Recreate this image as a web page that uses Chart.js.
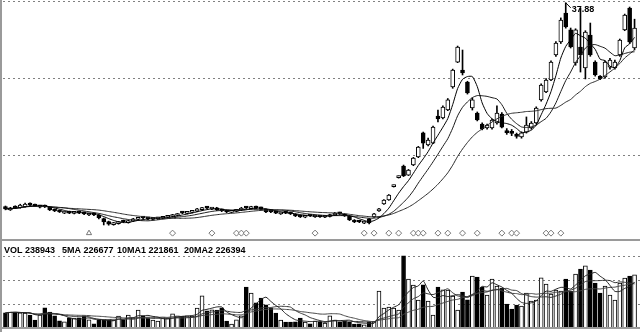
<!DOCTYPE html>
<html>
<head>
<meta charset="utf-8">
<script src="https://cdn.jsdelivr.net/npm/chart.js@4.4.0/dist/chart.umd.min.js"></script>
<style>
html, body { margin: 0; padding: 0; background: #fff; }
#wrap { position: relative; width: 640px; height: 332px; overflow: hidden; }
#price { position: absolute; left: 0; top: 0; }
#vol { position: absolute; left: 0; top: 241px; }
.frame { position: absolute; background: #9a9a9a; }
</style>
</head>
<body>
<div id="wrap">
  <canvas id="price" width="640" height="239"></canvas>
  <canvas id="vol" width="640" height="91"></canvas>
  <div class="frame" style="left:0;top:0;width:2px;height:332px"></div>
  <div class="frame" style="left:0;top:239px;width:640px;height:2px"></div>
  <div class="frame" style="left:0;top:327px;width:640px;height:2px"></div>
</div>
<script>
// daily candles, oldest first
const opens = [
  21.95,21.7,21.98,21.86,21.95,22.2,22.12,21.9,22.04,21.9,
  21.72,21.65,21.44,21.56,21.42,21.55,21.48,21.3,21.4,21.3,
  21.02,20.78,20.55,20.62,20.86,20.7,20.82,20.96,21.14,21.08,
  20.96,21.0,21.04,21.12,21.18,21.26,21.52,21.42,21.5,21.6,
  21.72,21.94,21.76,21.86,21.72,21.64,21.5,21.58,21.68,21.92,
  21.8,21.95,21.88,21.74,21.62,21.56,21.38,21.54,21.48,21.36,
  21.26,21.12,21.3,21.14,21.24,21.12,21.18,21.3,21.48,21.36,
  21.2,20.9,20.84,20.66,
  20.99,21.14,21.62,22.16,22.47,23.52,24.22,25.13,24.42,25.21,
  25.83,27.71,26.77,26.92,29.03,28.88,29.5,31.3,33.25,32.63,
  31.69,29.66,29.27,28.41,28.1,28.1,28.49,29.19,27.82,27.75,
  27.5,27.39,27.78,28.1,28.49,30.29,30.91,31.85,33.8,34.82,
  37.08,35.76,33.18,34.43,32.79,35.36,33.25,32.16,32.08,32.86,
  32.79,33.8,35.76,37.47,34.35
];
const closes = [
  21.77,21.84,21.84,22.08,22.16,22.08,22.0,22.0,21.92,21.69,
  21.61,21.53,21.53,21.45,21.53,21.45,21.38,21.38,21.3,21.06,
  20.75,20.59,20.67,20.75,20.75,20.83,20.99,21.06,21.06,20.99,
  21.06,21.06,21.14,21.22,21.3,21.38,21.45,21.53,21.61,21.77,
  21.84,21.84,21.84,21.69,21.61,21.53,21.61,21.69,21.84,21.84,
  21.92,21.84,21.77,21.53,21.53,21.45,21.45,21.45,21.38,21.22,
  21.14,21.22,21.22,21.22,21.14,21.22,21.3,21.45,21.38,21.22,
  20.91,20.75,20.75,20.75,
  20.67,21.38,21.77,22.47,22.86,23.6,24.3,24.35,24.81,25.75,
  26.61,26.92,27.16,28.17,28.8,29.74,30.29,32.63,34.43,32.4,
  30.83,30.29,28.72,28.02,28.33,28.72,29.27,28.17,27.74,27.68,
  27.44,27.71,28.33,28.49,29.66,31.46,31.85,33.25,34.74,36.54,
  35.99,34.43,35.76,33.8,35.6,33.8,32.24,31.93,33.25,33.41,
  33.25,34.97,36.93,34.82,35.91
];
const highs = [
  22.0,21.9,22.02,22.14,22.22,22.24,22.15,22.05,22.08,21.94,
  21.76,21.68,21.58,21.6,21.57,21.6,21.52,21.42,21.45,21.34,
  21.06,20.82,20.72,20.8,20.9,20.88,21.04,21.12,21.18,21.12,
  21.1,21.12,21.18,21.26,21.35,21.42,21.56,21.58,21.66,21.82,
  21.9,21.98,21.9,21.9,21.76,21.68,21.66,21.74,21.9,21.96,
  21.98,22.0,21.92,21.78,21.66,21.6,21.5,21.58,21.52,21.4,
  21.3,21.26,21.34,21.27,21.28,21.26,21.36,21.5,21.52,21.4,
  21.24,20.94,20.88,20.8,
  21.03,21.42,21.82,22.5,22.9,23.64,24.35,25.2,24.86,25.8,
  26.66,27.78,27.3,28.25,29.5,29.82,30.4,32.7,34.5,34.19,
  31.75,30.45,29.35,28.5,28.4,28.8,29.82,29.3,28.05,27.98,
  27.7,27.8,28.96,28.6,29.75,31.55,31.95,33.35,34.85,36.7,
  37.88,35.91,35.85,37.47,35.7,36.3,33.35,32.2,33.35,33.55,
  33.4,35.05,37.0,37.55,36.6
];
const lows = [
  21.7,21.65,21.8,21.82,21.9,22.02,21.96,21.86,21.88,21.64,
  21.56,21.49,21.4,21.4,21.38,21.4,21.33,21.25,21.25,21.0,
  20.52,20.5,20.5,20.58,20.7,20.66,20.78,20.92,21.0,20.94,
  20.92,20.95,21.0,21.08,21.14,21.22,21.4,21.38,21.46,21.56,
  21.68,21.8,21.72,21.64,21.56,21.48,21.46,21.54,21.64,21.8,
  21.76,21.8,21.72,21.48,21.48,21.4,21.34,21.4,21.33,21.17,
  21.1,21.08,21.18,21.1,21.1,21.08,21.14,21.26,21.34,21.18,
  20.86,20.7,20.7,20.62,
  20.6,21.1,21.58,22.12,22.44,23.48,24.18,24.3,24.38,25.15,
  25.78,26.5,26.7,26.88,28.57,28.8,29.45,31.2,33.2,32.24,
  30.75,29.5,28.65,27.95,28.0,28.0,28.4,28.1,27.6,27.5,
  27.3,27.3,27.7,28.0,28.4,30.2,30.85,31.8,33.7,34.7,
  35.9,34.35,33.0,32.47,31.93,33.7,32.15,31.88,32.0,32.7,
  32.7,33.7,35.7,34.7,34.2
];
const vols = [
  67800,72100,71500,68200,66900,58400,36200,59100,90300,71800,
  54600,31900,27400,45300,44800,46100,53700,36500,18900,37200,
  35800,36900,35100,54200,36400,58700,45500,81200,53900,44600,
  35900,31400,45800,44100,63300,54800,53500,55100,54000,89700,
  144500,76800,81400,80600,90800,31200,18200,36300,54400,184600,
  157300,112800,135100,103900,89800,67600,36100,27200,26800,27500,
  45200,26900,18300,31600,27100,22600,54300,36000,27300,31500,
  26700,18100,18600,13900,27000,27800,166400,90100,94700,89500,
  81100,324800,220500,193600,126000,194100,121500,58600,184200,171300,
  170800,144200,81000,162100,126300,234100,229400,184700,148600,220300,
  189100,180200,108100,85600,103400,99200,157400,121600,126100,225300,
  198200,153100,171000,166600,220700,166200,243100,265400,279300,261000,
  202600,157600,189000,148400,126200,202400,225100,233900,238943
];
// signal markers under the candles (candle index)
const diamondIdx = [34,42,47,48,49,63,73,75,78,80,83,84,85,88,90,93,96,101,103,104,110,111,113];
const triangleIdx = [17];
// dashed reference levels
const priceGrid = [26, 32, 38];
const volGrid = [108000, 216000, 324000];
// volume header as shown by the terminal
const volLegend = [["VOL", "238943"], ["5MA", "226677"], ["10MA1", "221861"], ["20MA2", "226394"]];

const labels = closes.map((_, i) => i + 1);
const isUp = closes.map((c, i) => c >= opens[i]);
const bodyFill = isUp.map(u => (u ? "#fff" : "#000"));

function movingAvg(arr, n) {
  return arr.map((_, i) => {
    const s = Math.max(0, i - n + 1);
    let t = 0;
    for (let k = s; k <= i; k++) t += arr[k];
    return t / (i - s + 1);
  });
}

const MARK_LEVEL = 19.88;
const diamonds = labels.map((_, i) => (diamondIdx.includes(i) ? MARK_LEVEL : null));
const triangles = labels.map((_, i) => (triangleIdx.includes(i) ? MARK_LEVEL : null));

const dashGrid = values => ({
  id: "dashGrid",
  beforeDatasetsDraw(chart) {
    const c = chart.ctx, y = chart.scales.y;
    c.save();
    c.strokeStyle = "#808080";
    c.lineWidth = 1;
    c.setLineDash([2, 3]);
    values.forEach(v => {
      const py = Math.round(y.getPixelForValue(v)) + 0.5;
      c.beginPath();
      c.moveTo(chart.chartArea.left, py);
      c.lineTo(chart.width, py);
      c.stroke();
    });
    c.restore();
  }
});

const highLabel = {
  id: "highLabel",
  afterDatasetsDraw(chart) {
    const top = Math.max(...highs);
    const idx = highs.indexOf(top);
    const px = chart.scales.x.getPixelForValue(idx);
    const py = chart.scales.y.getPixelForValue(top);
    const c = chart.ctx;
    c.save();
    c.strokeStyle = "#000";
    c.lineWidth = 1;
    c.beginPath();
    c.moveTo(px, py);
    c.lineTo(px + 5, py + 5);
    c.stroke();
    c.fillStyle = "#000";
    c.font = 'bold 9px "Liberation Sans", Arial, sans-serif';
    c.textBaseline = "alphabetic";
    c.fillText(top.toFixed(2), px + 6, py + 9);
    c.restore();
  }
};

const lineSet = (label, data, color) => ({
  type: "line", label, data, borderColor: color, borderWidth: 1,
  pointRadius: 0, tension: 0.2, order: 0
});

new Chart(document.getElementById("price"), {
  type: "bar",
  data: {
    labels,
    datasets: [
      {
        label: "body",
        data: opens.map((o, i) => [o, closes[i]]),
        backgroundColor: bodyFill,
        borderColor: "#000",
        borderWidth: 1,
        borderSkipped: false,
        barThickness: 4,
        minBarLength: 2,
        grouped: false,
        order: 1
      },
      {
        label: "wick",
        data: lows.map((l, i) => [l, highs[i]]),
        backgroundColor: "#000",
        barThickness: 1,
        grouped: false,
        order: 2
      },
      lineSet("MA5", movingAvg(closes, 5), "#000"),
      lineSet("MA10", movingAvg(closes, 10), "#1a1a1a"),
      lineSet("MA20", movingAvg(closes, 20), "#2a2a2a"),
      {
        type: "line", label: "sig", data: diamonds, showLine: false,
        pointStyle: "rectRot", pointRadius: 3, pointBackgroundColor: "#fff",
        pointBorderColor: "#777", pointBorderWidth: 1, order: 0
      },
      {
        type: "line", label: "sig2", data: triangles, showLine: false,
        pointStyle: "triangle", pointRadius: 3, pointBackgroundColor: "#fff",
        pointBorderColor: "#777", pointBorderWidth: 1, order: 0
      }
    ]
  },
  options: {
    responsive: false,
    animation: false,
    layout: { autoPadding: false, padding: { left: 3, right: 3, top: 0, bottom: 1 } },
    plugins: { legend: { display: false }, tooltip: { enabled: false } },
    scales: {
      x: { display: false },
      y: { display: false, min: 19.5, max: 38.1 }
    }
  },
  plugins: [dashGrid(priceGrid), highLabel]
});

const volHeader = {
  id: "volHeader",
  afterDraw(chart) {
    const c = chart.ctx;
    const xs = [4, 62, 117, 184];
    c.save();
    c.fillStyle = "#000";
    c.font = 'bold 9px "Liberation Sans", Arial, sans-serif';
    volLegend.forEach(([name, val], k) => c.fillText(name + " " + val, xs[k], 12));
    c.restore();
  }
};

new Chart(document.getElementById("vol"), {
  type: "bar",
  data: {
    labels,
    datasets: [
      {
        label: "VOL",
        data: vols,
        backgroundColor: bodyFill,
        borderColor: "#000",
        borderWidth: 1,
        borderSkipped: false,
        barThickness: 4,
        order: 1
      },
      lineSet("5MA", movingAvg(vols, 5), "#222"),
      lineSet("10MA1", movingAvg(vols, 10), "#333"),
      lineSet("20MA2", movingAvg(vols, 20), "#444")
    ]
  },
  options: {
    responsive: false,
    animation: false,
    layout: { autoPadding: false, padding: { left: 3, right: 3, top: 1, bottom: 4 } },
    plugins: { legend: { display: false }, tooltip: { enabled: false } },
    scales: {
      x: { display: false },
      y: { display: false, min: 0, max: 387000 }
    }
  },
  plugins: [dashGrid(volGrid), volHeader]
});
</script>
</body>
</html>
